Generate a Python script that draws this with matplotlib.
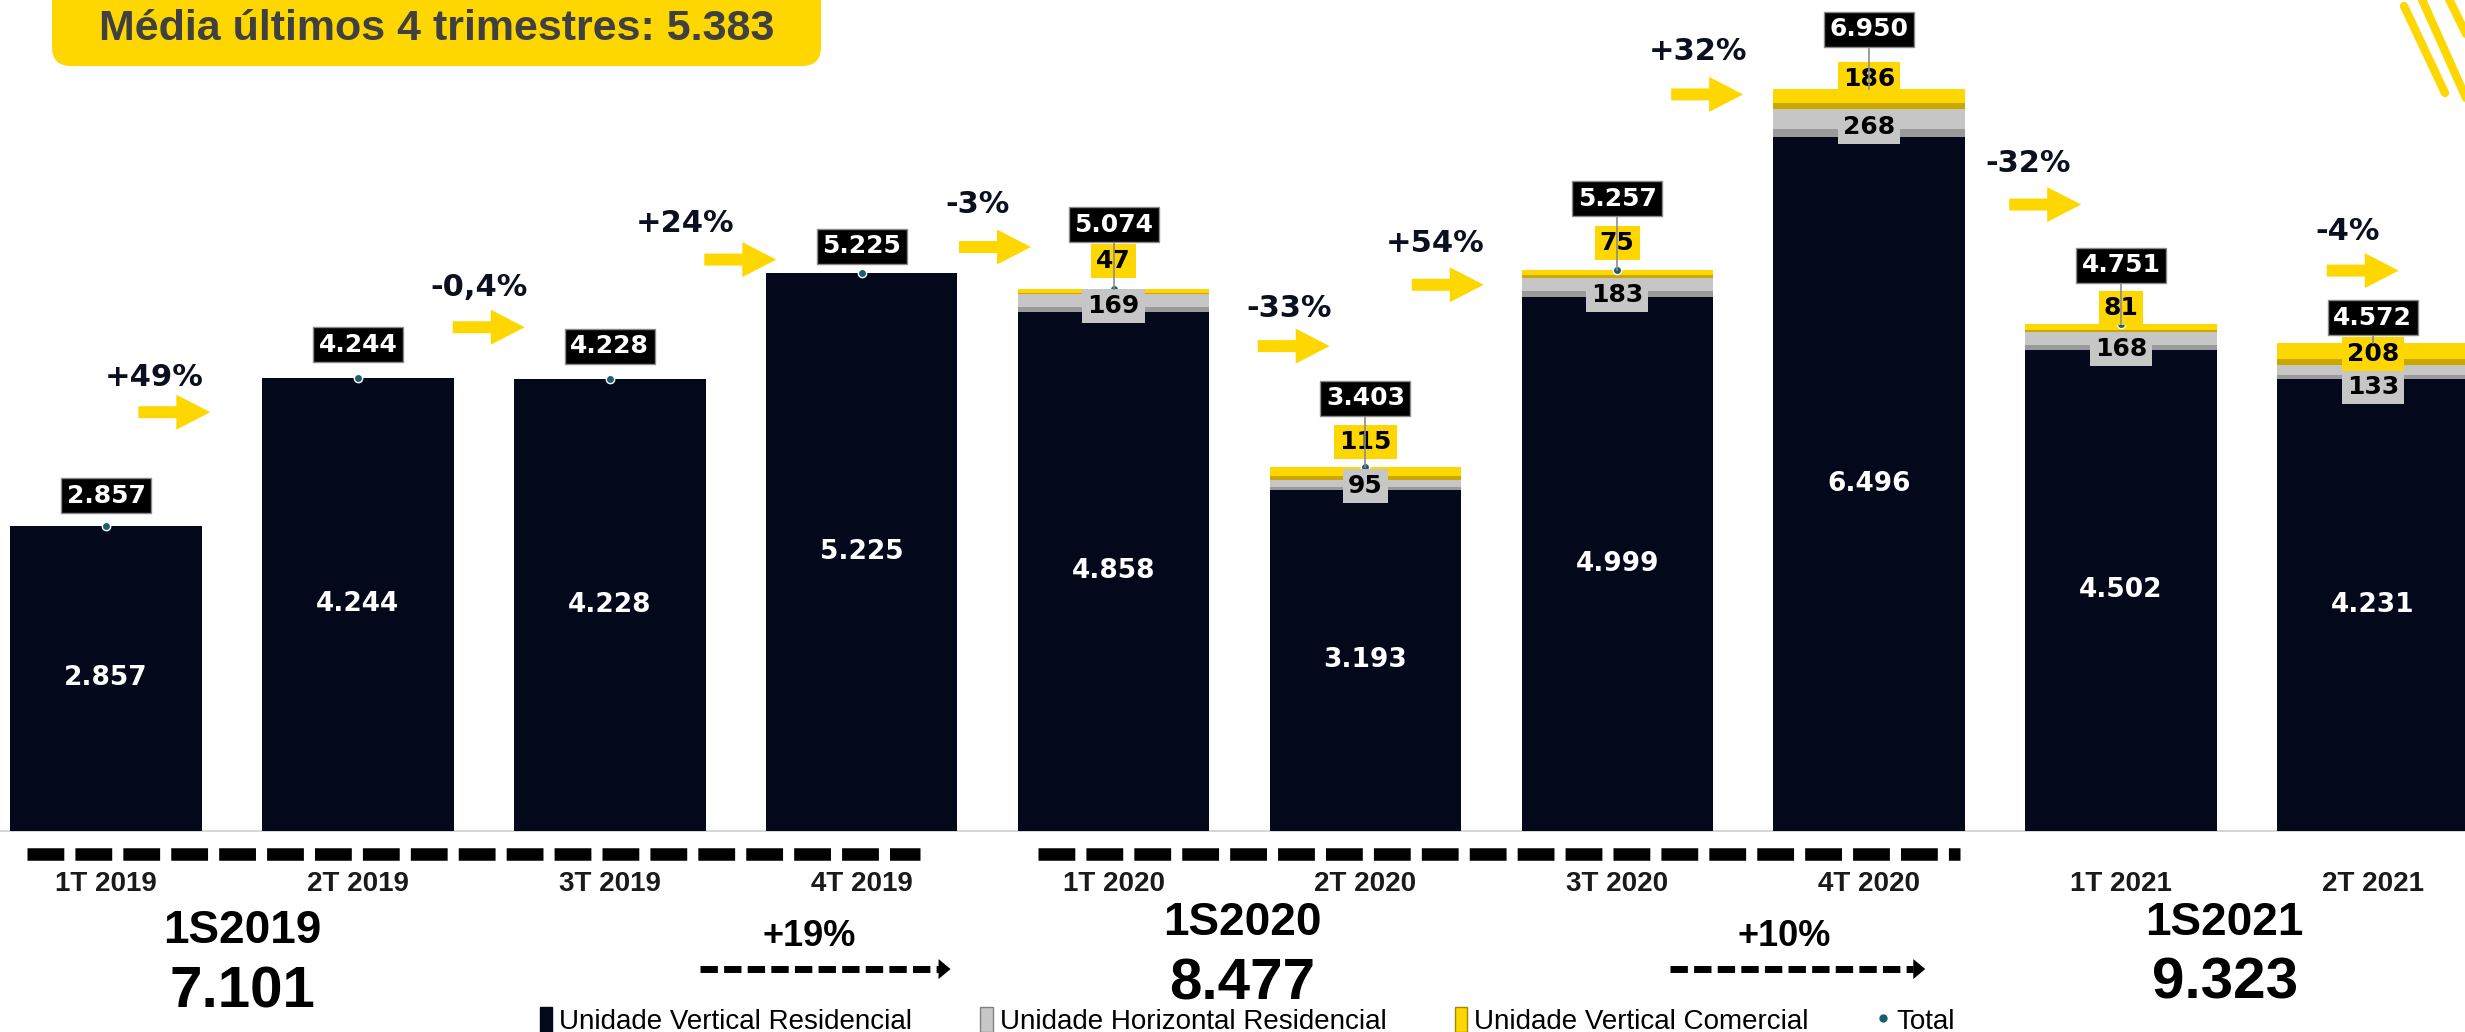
import numpy as np
import matplotlib
matplotlib.use("Agg")
import matplotlib.pyplot as plt
import matplotlib.transforms as mtransforms
from matplotlib.patches import Polygon, FancyBboxPatch, Patch
from matplotlib.lines import Line2D

# ---------------- data ----------------
quarters = ["1T 2019", "2T 2019", "3T 2019", "4T 2019", "1T 2020",
            "2T 2020", "3T 2020", "4T 2020", "1T 2021", "2T 2021"]
vert_res = np.array([2857, 4244, 4228, 5225, 4858, 3193, 4999, 6496, 4502, 4231])
horiz_res = np.array([0, 0, 0, 0, 169, 95, 183, 268, 168, 133])
vert_com = np.array([0, 0, 0, 0, 47, 115, 75, 186, 81, 208])
totals = vert_res + horiz_res + vert_com
qoq_labels = ["+49%", "-0,4%", "+24%", "-3%", "-33%", "+54%", "+32%", "-32%", "-4%"]
semesters = ["1S2019", "1S2020", "1S2021"]
semester_quarters = [(0, 1), (4, 5), (8, 9)]
yoy_labels = ["+19%", "+10%"]
series_names = ["Unidade Vertical Residencial", "Unidade Horizontal Residencial",
                "Unidade Vertical Comercial", "Total"]

# ---------------- style ----------------
NAVY = "#03081a"
GRAY = "#c6c6c6"
GRAY_D = "#9a9a9a"
YEL = "#FFD700"
YEL_D = "#c9a900"
TEAL = "#1f5c6e"
TXT = "#0b1020"
ARIAL = ["Liberation Sans", "DejaVu Sans"]
plt.rcParams["lines.scale_dashes"] = False


def fmt(v):
    return f"{int(v + 0.5):,}".replace(",", ".")


W, H = 2465, 1032
fig = plt.figure(figsize=(W / 100, H / 100), dpi=100)
ax = fig.add_axes([0, 0, 1, 1])
ax.set_xlim(-0.4213, 9.366)
ax.set_ylim(-1887, 7783)
ax.axis("off")

PX = 14.74  # value units per reference pixel (1568-wide reference)


def P(dx, dy):
    """layout helper: reference-pixel position -> data coordinates"""
    return ((dx - 67.5) / 160.2, (528 - dy) * PX)


x = np.arange(len(quarters))
bw = 0.76

# bars
ax.bar(x, vert_res, width=bw, color=NAVY, zorder=2)
ax.bar(x, horiz_res, bottom=vert_res, width=bw, color=GRAY, zorder=2)
ax.bar(x, horiz_res * 0.3, bottom=vert_res, width=bw, color=GRAY_D, zorder=2)
ax.bar(x, vert_com, bottom=vert_res + horiz_res, width=bw, color=YEL, zorder=2)
ax.bar(x, vert_com * 0.28, bottom=vert_res + horiz_res, width=bw, color=YEL_D, zorder=2)
ax.axhline(0, color="#d6d6d6", lw=1.5, zorder=1)

# total markers
ax.plot(x, totals, "o", color=TEAL, mec="white", mew=1, ms=6, zorder=4, ls="")

# label offsets (reference pixels above bar top)
tot_off = [19, 21, 21, 17, 41, 44, 45, 38, 37, 16]
yel_off = [0, 0, 0, 0, 18, 16, 17, 6, 10, -7]
gray_off = [0, 0, 0, 0, -11, -12, -16, -24, -16, -28]

for i in range(len(x)):
    top = totals[i]
    ty = top + tot_off[i] * PX
    ax.text(i, ty, fmt(top), ha="center", va="center", color="white",
            fontsize=18, fontweight="bold", zorder=8,
            bbox=dict(boxstyle="square,pad=0.22", fc="black", ec="#8a8a8a", lw=1))
    ax.text(i, vert_res[i] / 2, fmt(vert_res[i]), ha="center", va="center",
            color="white", fontsize=19, fontweight="bold", zorder=5)
    if vert_com[i] > 0:
        ax.plot([i, i], [top, ty], color="#8c8c8c", lw=1.2, zorder=7)
        ax.text(i, top + yel_off[i] * PX, fmt(vert_com[i]), ha="center", va="center",
                color="black", fontsize=18, fontweight="bold", zorder=6,
                bbox=dict(boxstyle="square,pad=0.2", fc=YEL, ec="none"))
    if horiz_res[i] > 0:
        ax.text(i, top + gray_off[i] * PX, fmt(horiz_res[i]), ha="center", va="center",
                color="black", fontsize=18, fontweight="bold", zorder=5,
                bbox=dict(boxstyle="square,pad=0.2", fc=GRAY, ec="none"))

# quarter-on-quarter arrows
pct_pos = [(98, 240), (305, 183), (436, 142), (622, 130), (820, 196),
           (913, 155), (1080, 33), (1290, 104), (1493, 147)]
arr_pos = [(88, 262), (288, 208), (448, 165), (610, 157), (800, 220),
           (898, 181), (1063, 60), (1278, 130), (1480, 172)]
L, t, hw, hl = 0.72, 0.06, 0.175, 0.34
arrow_shape = [(0, -t), (L - hl, -t), (L - hl, -hw), (L, 0), (L - hl, hw), (L - hl, t), (0, t)]
for lab, tp, ap in zip(qoq_labels, pct_pos, arr_pos):
    tx, tyy = P(*tp)
    ax.text(tx, tyy, lab, ha="center", va="center", color=TXT, fontsize=22,
            fontweight="bold", zorder=6)
    axp, ayp = P(*ap)
    tr = fig.dpi_scale_trans + mtransforms.ScaledTranslation(axp, ayp, ax.transData)
    ax.add_patch(Polygon(arrow_shape, closed=True, fc=YEL, ec="none",
                         transform=tr, zorder=6))

# x labels
for i, q in enumerate(quarters):
    ax.text(i, P(0, 562)[1], q, ha="center", va="center", color="#1a1a1a",
            fontsize=20, fontweight="bold", family=ARIAL)

# dashed separators for 2019 / 2020
for x0, x1 in [(17, 585), (660, 1247)]:
    a, yy = P(x0, 543)
    b, _ = P(x1, 543)
    ax.plot([a, b], [yy, yy], color="black", lw=9, solid_capstyle="butt",
            dash_capstyle="butt", dashes=(26.5, 8.0), zorder=3)

# semester totals
sem_pos = [(154, 592, 631), (790, 587, 626), (1415, 587, 625)]
for name, (qa, qb), (sx, sy1, sy2) in zip(semesters, semester_quarters, sem_pos):
    val = totals[qa] + totals[qb]
    ax.text(*P(sx, sy1), name, ha="center", va="center", color="black",
            fontsize=33, fontweight="bold", family=ARIAL)
    ax.text(*P(sx, sy2), fmt(val), ha="center", va="center", color="black",
            fontsize=42, fontweight="bold", family=ARIAL)

# year-over-year dashed arrows
yoy_pos = [(515, 595, 445, 605), (1135, 595, 1062, 1225)]
head = [(0, -0.1), (0.12, 0), (0, 0.1)]
for lab, (lx, ly, ax0, ax1) in zip(yoy_labels, yoy_pos):
    ax.text(*P(lx, ly), lab, ha="center", va="center", color="black",
            fontsize=26, fontweight="bold", family=ARIAL)
    a, yy = P(ax0, 616)
    b, _ = P(ax1 - 8, 616)
    ax.plot([a, b], [yy, yy], color="black", lw=5, dash_capstyle="butt",
            dashes=(12.5, 4.5))
    tr = fig.dpi_scale_trans + mtransforms.ScaledTranslation(b, yy, ax.transData)
    ax.add_patch(Polygon(head, closed=True, fc="black", ec="none", transform=tr))

# legend
handles = [Patch(fc=NAVY, ec=NAVY),
           Patch(fc=GRAY, ec="#808080"),
           Patch(fc=YEL, ec="#a08800"),
           Line2D([], [], marker="o", ls="", color=TEAL, mec="white", ms=7)]
ax.legend(handles, series_names, loc="center", bbox_to_anchor=(0.506, 0.011),
          ncol=4, frameon=False, prop=dict(family=ARIAL, size=20),
          handlelength=0.45, handleheight=1.0, handletextpad=0.25,
          columnspacing=2.45, borderpad=0, borderaxespad=0)

# banner with 4-quarter average
avg = totals[-4:].mean()
ident = mtransforms.IdentityTransform()
fig.add_artist(FancyBboxPatch((52, H - 66), 769, 120,
                              boxstyle="round,pad=0,rounding_size=19",
                              fc=YEL, ec="none", transform=ident))
fig.text(437 / W, 1 - 29 / H, f"Média últimos 4 trimestres: {fmt(avg)}",
         ha="center", va="center", color="#404040", fontsize=31,
         fontweight="bold", family=ARIAL)

# decorative stripes top-right
for (x0, y0, x1, y1) in [(2404, 6, 2445, 93), (2420, -5, 2466, 98), (2447, -5, 2468, 38)]:
    fig.add_artist(Line2D([x0, x1], [H - y0, H - y1], color=YEL, lw=6,
                          solid_capstyle="round", transform=ident))

fig.savefig("out.png", dpi=100)
